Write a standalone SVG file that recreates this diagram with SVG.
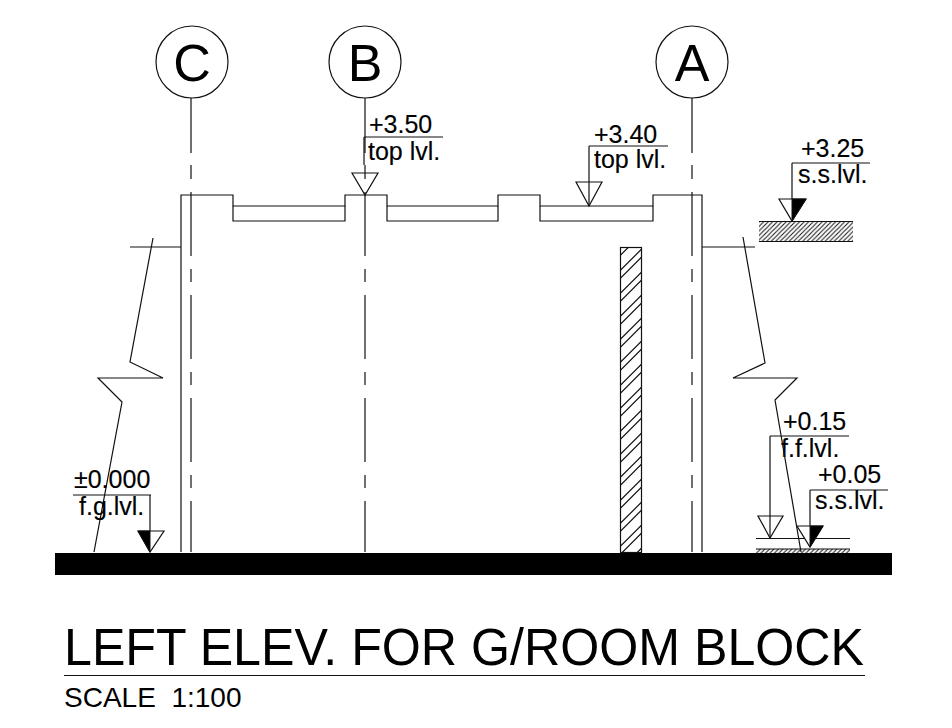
<svg xmlns="http://www.w3.org/2000/svg" width="952" height="728" viewBox="0 0 952 728">
<style>
.l{fill:none;stroke:#111;stroke-width:1.2}
.t{font-family:"Liberation Sans",Arial,sans-serif;fill:#000;font-size:25px;stroke:#000;stroke-width:.15}
.g{font-family:"Liberation Sans",Arial,sans-serif;fill:#000;font-size:52px;text-anchor:middle}
.ax{fill:none;stroke:#111;stroke-width:1.2;stroke-dasharray:64 13 13 13}
.tri{fill:#fff;stroke:#111;stroke-width:1.2}
.blk{fill:#000;stroke:#111;stroke-width:1}
</style>
<defs>
<pattern id="h1" width="23" height="23" patternUnits="userSpaceOnUse"><path d="M-2 3.700L3.700 -2M-2 18.700L18.700 -2M.7 24L24 .7M15.700 24L24 15.700" stroke="#111" stroke-width="1.2" fill="none"/></pattern>
<pattern id="h2" width="4.500" height="4.500" patternUnits="userSpaceOnUse"><path d="M-1 5.500L5.500 -1M-1 1L1 -1M3.500 5.500L5.500 3.500" stroke="#111" stroke-width="1" fill="none"/></pattern>
</defs>
<rect width="952" height="728" fill="#fff"/>
<g id="connectors">
<path class="l" d="M191 98V153M365 98V153M692 98V153"/>
<path class="l" d="M191 165V179M692 165V179M365 165V179"/>
<path class="ax" d="M191 192V552M692 192V552M365 192V552"/>
<path class="l" d="M181 552V195H233V206H345V195H387V206H498V195H540V206H653V195H702V552"/>
<path class="l" d="M233 206V221H345V206M387 206V221H498V206M540 206V221H653V206"/>
<path class="l" d="M130 247H181M702 247H755"/>
<path class="l" d="M153 238L130 362L163 378H98L122 402L94 552"/>
</g>
<g id="axis-c"><circle class="l" cx="192" cy="62" r="36"/><text class="g" x="192" y="81">C</text></g>
<g id="axis-b"><circle class="l" cx="365" cy="62" r="36"/><text class="g" x="365" y="81">B</text></g>
<g id="axis-a"><circle class="l" cx="692" cy="62" r="36"/><text class="g" x="692" y="81">A</text></g>
<g id="ground"><rect x="55" y="553" width="837" height="22" fill="#000"/></g>
<g id="column"><rect x="620.500" y="247.500" width="21" height="305" fill="url(#h1)" stroke="#111" stroke-width="1.200"/></g>
<g id="slab-upper"><rect x="759" y="221" width="94" height="20" fill="url(#h2)"/><path class="l" d="M759 221.500H853M759 241.500H853"/></g>
<g id="slab-lower"><rect x="756" y="549" width="94" height="4" fill="url(#h2)"/><path class="l" d="M756 538.500H850M756 549H850"/></g>
<g id="lvl-350"><path class="l" d="M364 137H443M364 137V165"/><path class="l" d="M352 173H378L365 195Z"/><text class="t" x="369" y="133">+3.50</text><text class="t" x="368" y="160">top lvl.</text></g>
<g id="lvl-340"><path class="tri" d="M576 182H602L589 206Z"/><path class="l" d="M589 146H668M589 146V206"/><text class="t" x="594" y="143">+3.40</text><text class="t" x="594" y="168">top lvl.</text></g>
<g id="lvl-325"><path class="l" d="M792 163H870M792 163V221"/><path class="tri" d="M779 199H806L792 221Z"/><path class="blk" d="M792 199H806L792 221Z"/><text class="t" x="801" y="157">+3.25</text><text class="t" x="798" y="183">s.s.lvl.</text></g>
<g id="lvl-015"><path class="l" d="M770 436H849M770 436V537"/><path class="tri" d="M758 516H783L770 538Z"/><path class="l" d="M770 516V538"/><text class="t" x="783" y="430">+0.15</text><text class="t" x="781" y="457">f.f.lvl.</text></g>
<g id="lvl-005"><path class="l" d="M810 490H888M810 490V547"/><path class="tri" d="M797 526H823L810 547Z"/><path class="blk" d="M810 526H823L810 547Z"/><text class="t" x="818" y="483">+0.05</text><text class="t" x="815" y="509">s.s.lvl.</text></g>
<g id="break-right"><path class="l" d="M743 237L765 363L733 378H797L775 400L801 552"/></g>
<g id="lvl-000"><path class="l" d="M73 495H151M150 495V552"/><path class="tri" d="M138 531H164L150 552Z"/><path class="blk" d="M138 531H150V552Z"/><text class="t" x="74" y="488">±0.000</text><text class="t" x="79" y="515">f.g.lvl.</text></g>
<g id="title"><text x="64" y="665" textLength="800" lengthAdjust="spacingAndGlyphs" style="font-family:'Liberation Sans',Arial,sans-serif;font-size:52px;fill:#000">LEFT ELEV. FOR G/ROOM BLOCK</text><path class="l" d="M64 675.500H865"/><text x="64" y="707" style="font-family:'Liberation Sans',Arial,sans-serif;font-size:28px;fill:#000;white-space:pre">SCALE  1:100</text></g>
</svg>
